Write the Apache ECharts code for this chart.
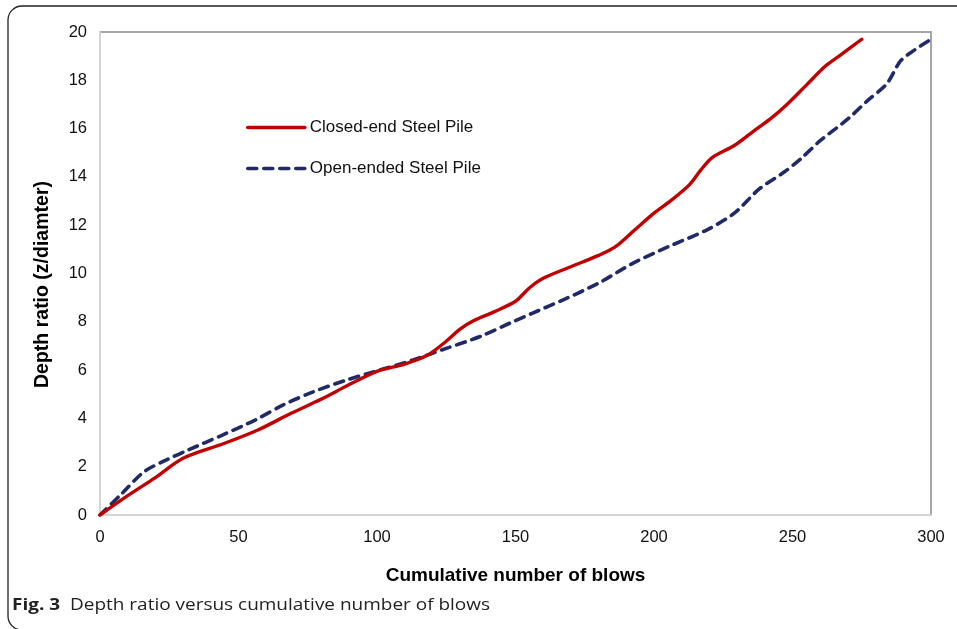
<!DOCTYPE html>
<html>
<head>
<meta charset="utf-8">
<script src="https://cdn.jsdelivr.net/npm/echarts@6/dist/echarts.min.js"></script>
<style>
  html, body { margin: 0; padding: 0; background: #fff; }
  #chart { width: 957px; height: 629px; }
</style>
</head>
<body>
<div id="chart"></div>
<script>
// Cumulative blows vs depth ratio for two pile types
const blowsClosed = [0, 10, 20, 30, 45, 57, 69, 80, 90, 100, 110, 118, 124, 130, 135, 142, 150, 155, 160, 170, 180, 186, 193, 200, 207, 213, 217, 221, 229, 236, 242, 248, 255, 262, 268, 275];
const depthClosed = [0, 0.8, 1.55, 2.35, 2.97, 3.52, 4.21, 4.8, 5.4, 5.95, 6.25, 6.6, 7.1, 7.7, 8.05, 8.4, 8.85, 9.4, 9.8, 10.28, 10.75, 11.1, 11.8, 12.5, 13.1, 13.7, 14.3, 14.8, 15.3, 15.9, 16.4, 17.0, 17.8, 18.6, 19.1, 19.7];

const blowsOpen = [0, 8, 16, 24, 32, 44, 56, 66, 77, 89, 101, 113, 125, 137, 149, 156, 168, 180, 192, 205, 219, 229, 238, 247, 253, 260, 270, 277, 284, 289, 294, 300];
const depthOpen = [0, 0.9, 1.8, 2.28, 2.7, 3.3, 3.93, 4.55, 5.1, 5.59, 6.0, 6.42, 6.9, 7.38, 8.0, 8.35, 8.95, 9.6, 10.4, 11.1, 11.8, 12.5, 13.5, 14.2, 14.75, 15.5, 16.4, 17.15, 17.85, 18.8, 19.25, 19.7];

const seriesNames = ['Closed-end Steel Pile', 'Open-ended Steel Pile'];
const xTicks = { min: 0, max: 300, step: 50 };
const yTicks = { min: 0, max: 20, step: 2 };

const zip = (xs, ys) => xs.map((x, i) => [x, ys[i]]);

const sans = "'Liberation Sans', Arial, sans-serif";
const chart = echarts.init(document.getElementById('chart'), null, { renderer: 'canvas' });

chart.setOption({
  animation: false,
  backgroundColor: '#ffffff',
  textStyle: { fontFamily: sans },
  grid: {
    left: 100, right: 26, top: 32, bottom: 114,
    show: true, borderColor: '#a6a6a6', borderWidth: 2, backgroundColor: 'transparent'
  },
  legend: {
    orient: 'vertical',
    left: 241, top: 114,
    itemWidth: 57, itemHeight: 14, itemGap: 24,
    itemStyle: { opacity: 0 },
    lineStyle: { width: 3.6, cap: 'round' },
    textStyle: { fontSize: 17, color: '#111', fontFamily: sans },
    data: seriesNames
  },
  xAxis: {
    type: 'value',
    min: xTicks.min, max: xTicks.max, interval: xTicks.step,
    name: 'Cumulative number of blows',
    nameLocation: 'middle', nameGap: 51,
    nameTextStyle: { fontSize: 19, fontWeight: 'bold', color: '#000', fontFamily: sans },
    axisLine: { show: true, lineStyle: { color: '#d4d4d4', width: 2 } },
    axisTick: { show: false },
    splitLine: { show: false },
    axisLabel: { fontSize: 16.5, color: '#111', margin: 14, fontFamily: sans }
  },
  yAxis: {
    type: 'value',
    min: yTicks.min, max: yTicks.max, interval: yTicks.step,
    name: 'Depth ratio (z/diamter)',
    nameLocation: 'middle', nameGap: 47,
    nameTextStyle: { fontSize: 19.5, fontWeight: 'bold', color: '#000', fontFamily: sans, padding: [0, 22, 0, 0] },
    axisLine: { show: true, lineStyle: { color: '#d4d4d4', width: 2 } },
    axisTick: { show: false },
    splitLine: { show: false },
    axisLabel: { fontSize: 16.5, color: '#111', margin: 13, fontFamily: sans }
  },
  series: [
    {
      name: seriesNames[0],
      type: 'line',
      data: zip(blowsClosed, depthClosed),
      smooth: 0.3,
      showSymbol: false,
      symbol: 'none',
      color: '#c00000',
      lineStyle: { color: '#c00000', width: 3.4, cap: 'round' },
      z: 3
    },
    {
      name: seriesNames[1],
      type: 'line',
      data: zip(blowsOpen, depthOpen),
      smooth: 0.3,
      showSymbol: false,
      symbol: 'none',
      color: '#1f2a66',
      lineStyle: { color: '#1f2a66', width: 3.6, type: [9, 7], cap: 'round' },
      z: 2
    }
  ],
  graphic: [
    {
      type: 'rect',
      shape: { x: 8, y: 6, width: 1000, height: 624, r: 14 },
      style: { fill: 'none', stroke: '#222', lineWidth: 1.3 },
      silent: true
    },
    {
      type: 'text',
      x: 12, y: 597,
      scaleX: 1.15,
      style: {
        text: '{b|Fig. 3}  Depth ratio versus cumulative number of blows',
        fontFamily: "'Open Sans', 'Noto Sans', sans-serif",
        fontSize: 16.5,
        fill: '#222',
        rich: {
          b: { fontWeight: 'bold', fontSize: 16.5, fontFamily: "'Open Sans', 'Noto Sans', sans-serif", fill: '#222' }
        }
      }
    }
  ]
});
</script>
</body>
</html>
